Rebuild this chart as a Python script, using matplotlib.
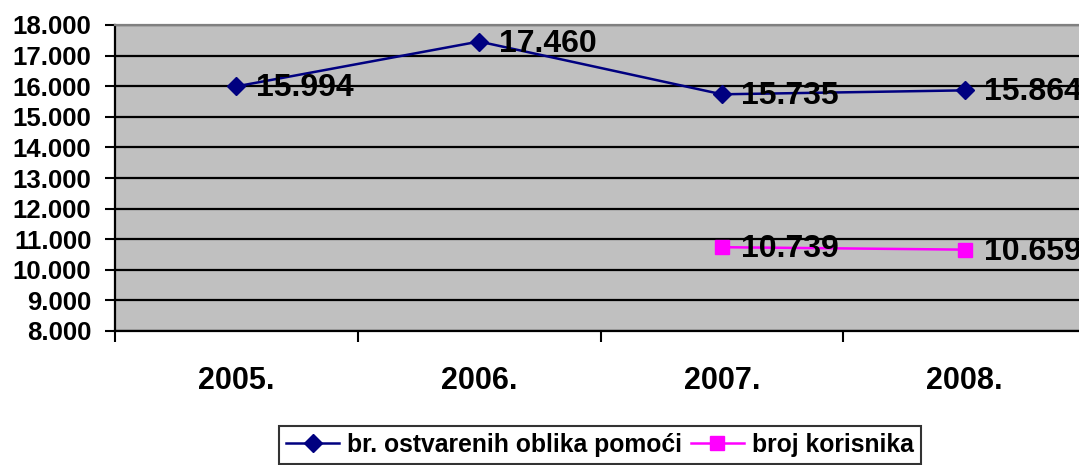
import numpy as np
import matplotlib.pyplot as plt
from matplotlib.ticker import FuncFormatter, FixedLocator

plt.rcParams['font.family'] = ['Liberation Sans', 'DejaVu Sans']
plt.rcParams['font.weight'] = 'bold'

# podaci
godine = ['2005.', '2006.', '2007.', '2008.']
oblici_pomoci = [15994, 17460, 15735, 15864]
korisnici = [np.nan, np.nan, 10739, 10659]

fig = plt.figure(figsize=(10.79, 4.65), dpi=100)
ax = fig.add_axes([115 / 1079, 1 - 331 / 465, 971 / 1079, 306 / 465])
ax.set_facecolor('#C0C0C0')

x = np.arange(len(godine))
ax.plot(x, oblici_pomoci, color='#000080', lw=1.8, marker='D', ms=9,
        label='br. ostvarenih oblika pomoći', zorder=3)
ax.plot(x, korisnici, color='#FF00FF', lw=1.8, marker='s', ms=10,
        label='broj korisnika', zorder=3)

# oznake vrijednosti
def fmt(v, pos=None):
    return f'{int(v):,}'.replace(',', '.')

for serija in (oblici_pomoci, korisnici):
    for xi, v in zip(x, serija):
        if np.isnan(v):
            continue
        ax.annotate(fmt(v), (xi, v), xytext=(14, -1.5), textcoords='offset points',
                    fontsize=23, fontweight='bold', va='center', ha='left',
                    zorder=4, annotation_clip=False)

ax.set_ylim(8000, 18000)
ax.set_yticks(np.arange(8000, 18001, 1000))
ax.yaxis.set_major_formatter(FuncFormatter(fmt))
ax.grid(axis='y', color='black', lw=1.6, zorder=1)
ax.set_axisbelow(True)

ax.set_xlim(-0.5, 3.5)
ax.xaxis.set_major_locator(FixedLocator(np.arange(-0.5, 3.6, 1)))
ax.xaxis.set_major_formatter(FuncFormatter(lambda v, p: ''))
ax.xaxis.set_minor_locator(FixedLocator(x))
ax.set_xticklabels(godine, minor=True)
ax.tick_params(axis='x', which='major', direction='out', length=8, width=1.5)
ax.tick_params(axis='x', which='minor', length=0, pad=25.5, labelsize=22)
ax.tick_params(axis='y', direction='out', length=7, width=1.5, pad=10, labelsize=18.5)
for lbl in ax.get_xticklabels(minor=True) + ax.get_yticklabels():
    lbl.set_fontweight('bold')

for s in ('left', 'bottom'):
    ax.spines[s].set_linewidth(1.6)
ax.spines['top'].set_color('#808080')
ax.spines['top'].set_linewidth(1.6)
ax.spines['right'].set_visible(False)

leg = fig.legend(loc='center', bbox_to_anchor=(600 / 1079, 1 - 445 / 465), ncol=2,
                 frameon=True, fancybox=False, edgecolor='black', fontsize=17.8,
                 handlelength=2.15, columnspacing=0.35, handletextpad=0.33,
                 borderpad=0.3, borderaxespad=0)
leg.get_frame().set_linewidth(1.5)

fig.savefig('out.png', dpi=100)
